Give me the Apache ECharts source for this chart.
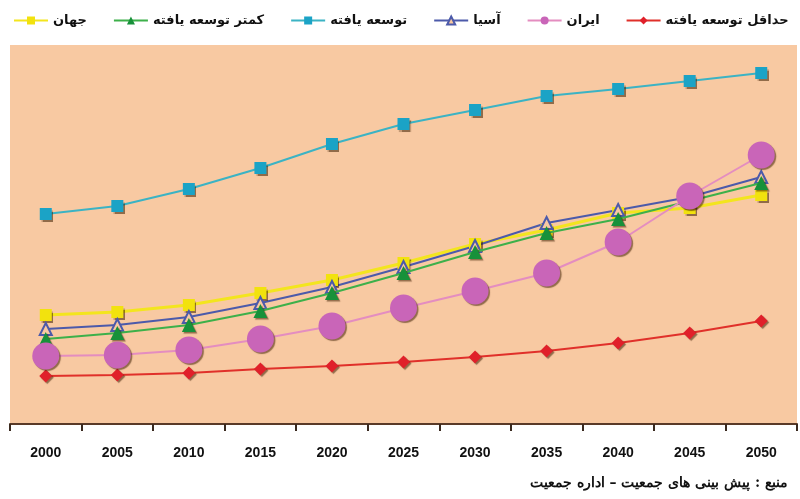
<!DOCTYPE html>
<html>
<head>
<meta charset="utf-8">
<script src="https://cdn.jsdelivr.net/npm/echarts@6/dist/echarts.min.js"></script>
<style>
html,body{margin:0;padding:0;background:#fff;}
#c{width:800px;height:499px;}
</style>
</head>
<body>
<div id="c"></div>
<script>
const years = ['2000','2005','2010','2015','2020','2025','2030','2035','2040','2045','2050'];
const world = [109,112,119,131,144,161,180,194,211,216,229];
const lessDeveloped = [85,91,99,113,131,151,172,191,205,223,241];
const developed = [210,218,235,256,280,300,314,328,335,343,351];
const asia = [95,99,107,121,137,157,178,201,214,227,247];
const iran = [68,69,74,85,98,116,133,151,182,228,269];
const leastDeveloped = [48,49,51,55,58,62,67,73,81,91,103];
const names = ['جهان','کمتر توسعه یافته','توسعه یافته','آسیا','ایران','حداقل توسعه یافته'];
const sourceText = 'منبع : پیش بینی های جمعیت – اداره جمعیت';

const shadow = {shadowColor:'rgba(60,30,0,0.55)', shadowOffsetX:1.5, shadowOffsetY:1.5, shadowBlur:1};
function mk(name, data, color, lineColor, symbol, size, z, extra){
  return Object.assign({
    name, type:'line', data, symbol, symbolSize:size, z,
    lineStyle:{color:lineColor, width:2},
    itemStyle:Object.assign({color:color}, shadow),
    emphasis:{disabled:true}
  }, extra||{});
}
const chart = echarts.init(document.getElementById('c'));
chart.setOption({
  animation:false,
  legend:{
    top:9, left:8, itemWidth:34, itemHeight:10, itemGap:26,
    textStyle:{fontFamily:'DejaVu Sans', fontWeight:'bold', fontSize:13, color:'#111'},
    data:names
  },
  grid:{left:10, right:3, top:45, bottom:75, show:true, backgroundColor:'#F8C9A2', borderWidth:0},
  xAxis:{
    type:'category', data:years, boundaryGap:true,
    axisLine:{lineStyle:{color:'#5a3a28', width:2}},
    axisTick:{show:true, length:7, lineStyle:{color:'#3a2a20', width:2}},
    axisLabel:{fontFamily:'Liberation Sans', fontWeight:'bold', fontSize:14, color:'#111', margin:22,
      textShadowColor:'rgba(0,0,0,0.25)', textShadowOffsetX:1, textShadowOffsetY:1}
  },
  yAxis:{type:'value', min:0, max:379, show:false, splitLine:{show:false}},
  series:[
    mk(names[0], world, '#F2E20E', '#F3E51E', 'rect', 12, 3, {lineStyle:{color:'#F3E51E', width:3}}),
    mk(names[1], lessDeveloped, '#17913A', '#3DB04A', 'triangle', 14, 4),
    mk(names[2], developed, '#1BA3C6', '#3BB3C4', 'rect', 12, 3),
    mk(names[3], asia, '#F8C9A2', '#4C5AAA', 'triangle', 12, 3, {itemStyle:{color:'#F8C9A2', borderColor:'#4C5AAA', borderWidth:2}}),
    mk(names[4], iran, '#C965B8', '#E48DC0', 'circle', 27, 6),
    mk(names[5], leastDeveloped, '#E0202A', '#E0302A', 'diamond', 13, 5)
  ],
  graphic:[{
    type:'text', right:12, top:476,
    style:{text:sourceText, font:'bold 14px "DejaVu Serif"', fill:'#111', textAlign:'right'}
  }]
});
</script>
</body>
</html>
